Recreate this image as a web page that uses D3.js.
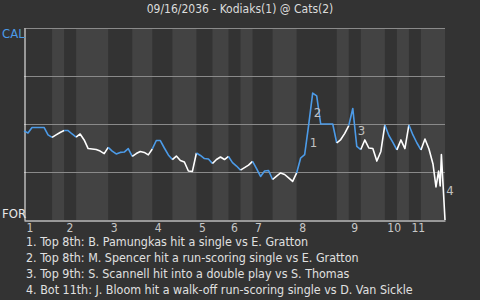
<!DOCTYPE html>
<html><head><meta charset="utf-8">
<script src="https://cdn.jsdelivr.net/npm/d3@7"></script>
<style>
html,body{margin:0;padding:0;background:#333333;}
svg{display:block;}
text{font-family:"Liberation Sans Narrow","DejaVu Sans Condensed",sans-serif;}
</style></head>
<body><svg id="c" width="480" height="300"></svg>
<script>
const title = "09/16/2036 - Kodiaks(1) @ Cats(2)";
const topTeam = "CAL", bottomTeam = "FOR";
// half-inning boundaries in plate-appearance units
const halfBounds = [0,7,10,13,21,27,32,37,43,47,51,54,57,62,68,78,81,84,90,93,96,99,105];
const inningLabels = ["1","2","3","4","5","6","7","8","9","10","11"];
// plate-appearance index and CAL win probability
const pa = [0,1,2,3,4,5,6,7,8,9,10,11,12,13,14,15,16,17,18,19,20,21,22,23,24,25,26,27,28,29,30,
  31,32,33,34,35,36,37,38,39,40,41,42,43,44,45,46,47,48,49,50,51,52,53,54,55,56,57,58,59,60,
  61,62,63,64,65,66,67,68,69,70,71,72,73,74,75,76,77,78,79,80,81,82,83,84,85,86,87,88,89,90,
  91,92,93,94,95,96,97,98,99,100,101,102,102.75,103.4,103.8,104.1,105];
const wpCAL = [0.464,0.453,0.482,0.482,0.482,0.482,0.443,0.430,0.443,0.456,0.466,0.466,0.448,0.432,0.448,0.417,
  0.372,0.370,0.367,0.359,0.346,0.378,0.359,0.344,0.352,0.354,0.372,0.331,0.346,0.357,0.352,
  0.339,0.370,0.414,0.414,0.375,0.339,0.315,0.333,0.310,0.302,0.255,0.253,0.349,0.336,0.320,
  0.318,0.294,0.315,0.328,0.315,0.331,0.299,0.281,0.260,0.273,0.286,0.305,0.268,0.227,0.255,
  0.258,0.211,0.229,0.245,0.237,0.219,0.201,0.245,0.323,0.341,0.495,0.661,0.646,0.500,0.500,
  0.500,0.500,0.401,0.419,0.451,0.492,0.581,0.383,0.367,0.417,0.375,0.372,0.307,0.357,0.495,
  0.440,0.404,0.365,0.417,0.372,0.495,0.443,0.401,0.365,0.422,0.370,0.292,0.172,0.255,0.177,0.341,0.000];
const keyEvents = [71,72,83,105];
const notes = [
  "1. Top 8th: B. Pamungkas hit a single vs E. Gratton",
  "2. Top 8th: M. Spencer hit a run-scoring single vs E. Gratton",
  "3. Top 9th: S. Scannell hit into a double play vs S. Thomas",
  "4. Bot 11th: J. Bloom hit a walk-off run-scoring single vs D. Van Sickle"
];
const gridTicks = [0.25,0.5,0.75,1];

const blue = "#4c9be8", white = "#ffffff";
const svg = d3.select("#c");
const m = {l:24, r:445, t:28, b:220};
const x = d3.scaleLinear().domain([0,105]).range([m.l,m.r]);
const y = d3.scaleLinear().domain([0,1]).range([m.b,m.t]);

// half-inning bands (bottom halves lighter)
const halves = d3.range(halfBounds.length-1).map(i=>({i,a:halfBounds[i],b:halfBounds[i+1]}));
svg.append("g").selectAll("rect").data(halves.filter(h=>h.i%2===1)).join("rect")
  .attr("x",d=>x(d.a)).attr("width",d=>x(d.b)-x(d.a))
  .attr("y",m.t).attr("height",m.b-m.t).attr("fill","#434343");

// gridlines
svg.append("g").selectAll("line").data(gridTicks).join("line")
  .attr("x1",m.l).attr("x2",m.r).attr("y1",d=>Math.round(y(d))+0.5).attr("y2",d=>Math.round(y(d))+0.5)
  .attr("stroke","#8a8a8a").attr("stroke-width",1);

// axes
const yAxis = d3.axisLeft(y).tickValues([]).tickSizeOuter(0);
svg.append("g").attr("transform",`translate(${m.l+0.5},0)`).call(yAxis)
  .call(g=>g.select(".domain").attr("stroke","#fff"));
const xAxis = d3.axisBottom(x).tickValues(halfBounds.filter((d,i)=>i%2===0).slice(0,11))
  .tickSize(0).tickFormat((d,i)=>inningLabels[i]).tickPadding(3);
svg.append("g").attr("transform",`translate(0,${m.b+0.5})`).call(xAxis)
  .call(g=>g.select(".domain").attr("stroke","#fff"))
  .call(g=>g.selectAll("text").attr("text-anchor","start").attr("dx",2)
    .attr("fill","#c8c8c8").attr("font-size",12)
    .attr("font-family","'Liberation Sans Narrow','DejaVu Sans Condensed',sans-serif"));

// line segments coloured by half-inning
const pts = pa.map((p,i)=>({p,w:wpCAL[i]}));
function halfOf(p){ for(let i=0;i<halfBounds.length-1;i++){ if(p>halfBounds[i] && p<=halfBounds[i+1]) return i;} return 0; }
const runs = [];
for(let i=1;i<pts.length;i++){
  const h = halfOf(pts[i].p)%2;
  if(runs.length && runs[runs.length-1].h===h) runs[runs.length-1].pts.push(pts[i]);
  else runs.push({h, pts:[pts[i-1],pts[i]]});
}
const line = d3.line().x(d=>x(d.p)).y(d=>y(d.w));
svg.append("g").selectAll("path").data(runs).join("path")
  .attr("d",d=>line(d.pts)).attr("fill","none")
  .attr("stroke",d=>d.h===0?blue:white).attr("stroke-width",1.6)
  .attr("stroke-linejoin","round");

// key-event numbers
svg.append("g").selectAll("text").data(keyEvents).join("text")
  .attr("x",d=>{const i=pa.indexOf(d);return (x(pa[i])+x(pa[i-1]))/2+3;})
  .attr("y",d=>{const i=pa.indexOf(d);return (y(wpCAL[i])+y(wpCAL[i-1]))/2+7.5;})
  .attr("fill","#c0c0c0").attr("font-size",13).text((d,i)=>i+1);

// team labels
svg.append("text").attr("x",2).attr("y",y(1)+10).attr("fill",blue).attr("font-size",13).text(topTeam);
svg.append("text").attr("x",2).attr("y",y(0)-2.5).attr("fill","#e8e8e8").attr("font-size",13).text(bottomTeam);

// title
svg.append("text").attr("x",240).attr("y",12.5).attr("text-anchor","middle")
  .attr("fill","#dcdcdc").attr("font-size",12).text(title);

// notes
svg.append("g").selectAll("text").data(notes).join("text")
  .attr("x",26).attr("y",(d,i)=>246+i*16).attr("fill","#e0e0e0").attr("font-size",12.4).text(d=>d);
</script></body></html>
